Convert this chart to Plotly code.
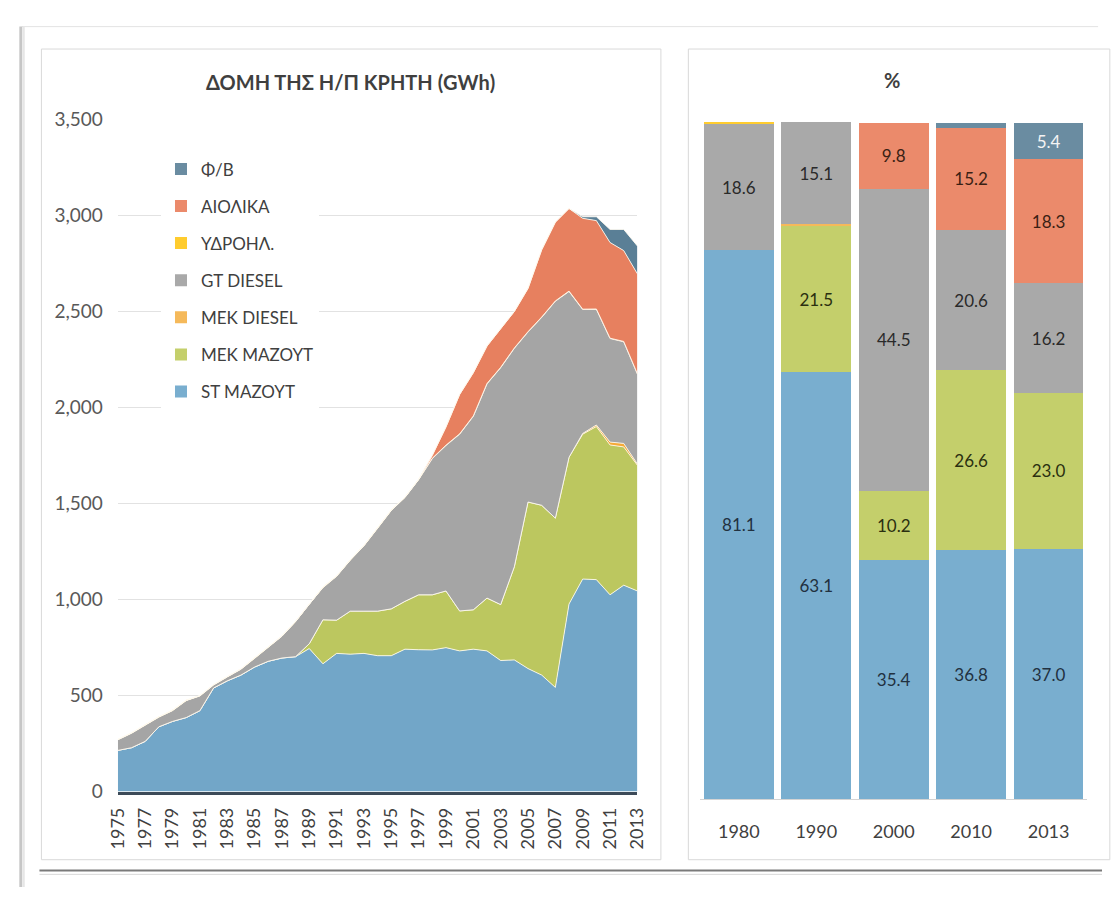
import plotly.graph_objects as go

# ---- Annual electricity generation structure, Crete (GWh) ----
years = list(range(1975, 2014))

st_mazout = [214, 228, 261, 337, 365, 385, 421, 539, 576, 606,
             648, 678, 695, 702, 744, 665, 719, 715, 719, 707,
             707, 741, 738, 737, 749, 732, 741, 732, 682, 685,
             640, 606, 542, 976, 1106, 1103, 1024, 1074, 1044]
mek_mazout = [0] * 14 + [25, 229, 173, 224, 220, 232, 244, 249, 286, 287,
                         295, 208, 205, 275, 291, 485, 867, 884, 881, 764,
                         754, 797, 780, 720, 655]
mek_diesel = [0] * 34 + [4, 8, 15, 18, 6]
gt_diesel = [55, 75, 84, 50, 56, 88, 76, 15, 20, 30,
             45, 71, 113, 182, 207, 167, 228, 265, 340, 431,
             512, 540, 599, 709, 757, 920, 1007, 1115, 1233, 1137,
             885, 978, 1129, 863, 645, 602, 539, 529, 468]
hydro = [2, 2, 2, 2, 2, 2, 2, 2, 2, 2,
         2, 2, 2, 2, 2, 3, 2, 2, 2, 2,
         2, 2, 2, 2, 2, 2, 2, 2, 2, 2,
         2, 2, 2, 2, 2, 2, 2, 2, 2]
wind = [0] * 23 + [15, 95, 205, 225, 195, 200, 190, 225, 350, 410,
                   430, 473, 460, 498, 473, 520]
pv = [0] * 34 + [8, 20, 68, 110, 145]

# ---- Percentage shares for selected years ----
share_years = ["1980", "1990", "2000", "2010", "2013"]
pct_st_mazout = [81.1, 63.1, 35.4, 36.8, 37.0]
pct_mek_mazout = [0.0, 21.5, 10.2, 26.6, 23.0]
pct_mek_diesel = [0.0, 0.3, 0.0, 0.0, 0.0]
pct_gt_diesel = [18.6, 15.1, 44.5, 20.6, 16.2]
pct_hydro = [0.3, 0.0, 0.0, 0.0, 0.0]
pct_wind = [0.0, 0.0, 9.8, 15.2, 18.3]
pct_pv = [0.0, 0.0, 0.0, 0.7, 5.4]

names = ["ST ΜΑΖΟΥΤ", "ΜΕΚ ΜΑΖΟΥΤ", "ΜΕΚ DIESEL", "GT DIESEL",
         "ΥΔΡΟΗΛ.", "ΑΙΟΛΙΚΑ", "Φ/Β"]
area_colors = ["#72a6c8", "#bcc75f", "#f5a937", "#a5a5a5",
               "#ffcc2e", "#e7805f", "#5a7f96"]
bar_colors = ["#79aecf", "#c4cf6b", "#f5b95a", "#a9a9a9",
              "#ffcc2e", "#eb8a6b", "#6a8ca1"]
label_colors = ["#22313f", "#2b2f10", "#22313f", "#2a2a2a",
                "#22313f", "#3a1f14", "#f4f4f4"]

gwh_series = [st_mazout, mek_mazout, mek_diesel, gt_diesel, hydro, wind, pv]
pct_series = [pct_st_mazout, pct_mek_mazout, pct_mek_diesel, pct_gt_diesel,
              pct_hydro, pct_wind, pct_pv]

W, H = 1112, 898
FONT = "Lato, 'Open Sans', sans-serif"


def fx(px):
    return px / W


def fy(py):
    return 1 - py / H


fig = go.Figure()

# stacked areas (left panel)
for name, vals, col in zip(names, gwh_series, area_colors):
    fig.add_trace(go.Scatter(
        x=years, y=vals, name=name, stackgroup="gwh", mode="lines",
        line=dict(width=1, color="rgba(255,250,240,0.85)"),
        fillcolor=col, showlegend=False, hoverinfo="x+y+name",
        xaxis="x", yaxis="y"))

# 100% stacked bars (right panel); these carry the legend (top item = top layer)
n = len(names)
for i, (name, vals, col, tcol) in enumerate(zip(names, pct_series, bar_colors, label_colors)):
    fig.add_trace(go.Bar(
        x=share_years, y=vals, name=name, marker=dict(color=col, line=dict(width=0)),
        text=[f"{v:.1f}" if v >= 1 else "" for v in vals],
        textposition="inside", insidetextanchor="middle", textangle=0,
        constraintext="none",
        textfont=dict(family=FONT, size=17, color=tcol),
        legendgroup=name, legendrank=n - i, showlegend=True,
        xaxis="x2", yaxis="y2"))


def pline(x0, y0, x1, y1, color, width):
    return dict(type="line", xref="paper", yref="paper",
                x0=fx(x0), x1=fx(x1), y0=fy(y0), y1=fy(y1),
                line=dict(color=color, width=width))


def prect(x0, y0, x1, y1, color):
    return dict(type="rect", xref="paper", yref="paper",
                x0=fx(x0), x1=fx(x1), y0=fy(y1), y1=fy(y0),
                line=dict(color=color, width=1))


shapes = [
    # outer page frame
    pline(10, 15, 1108, 15, "#e3e3e3", 1),
    pline(9, 15, 9, 898, "#c6c6c6", 3),
    pline(12, 15, 12, 898, "#e6e6e6", 2),
    # panel boxes
    prect(30, 38, 662, 870, "#d9d9d9"),
    prect(690, 38, 1120, 870, "#d9d9d9"),
    # rule under the panels
    pline(28, 881, 1112, 881, "#7a7a7a", 2),
    pline(28, 885, 1112, 885, "#d8d8d8", 1),
]

annotations = [
    dict(text="<b>ΔΟΜΗ ΤΗΣ Η/Π ΚΡΗΤΗ (GWh)</b>", x=fx(345), y=fy(72),
         xref="paper", yref="paper", xanchor="center", yanchor="middle",
         showarrow=False, font=dict(family=FONT, size=20, color="#3f3f3f")),
    dict(text="<b>%</b>", x=fx(898), y=fy(70),
         xref="paper", yref="paper", xanchor="center", yanchor="middle",
         showarrow=False, font=dict(family=FONT, size=20, color="#3f3f3f")),
]

fig.update_layout(
    width=W, height=H,
    margin=dict(l=0, r=0, t=0, b=0),
    paper_bgcolor="white", plot_bgcolor="white",
    font=dict(family=FONT, color="#595959"),
    barmode="stack", bargap=0.1,
    shapes=shapes, annotations=annotations,
    xaxis=dict(domain=[fx(108), fx(638)], range=[1975, 2013],
               tickvals=years[::2], tickangle=-90,
               tickfont=dict(size=18, color="#404040"),
               showgrid=False, zeroline=False,
               showline=True, linecolor="#3c4a58", linewidth=3,
               ticks="", ticklabelstandoff=6, anchor="y"),
    yaxis=dict(domain=[fy(800), fy(110)], range=[0, 3500],
               tickvals=[0, 500, 1000, 1500, 2000, 2500, 3000, 3500],
               tickformat=",d", tickfont=dict(size=19, color="#595959"),
               showgrid=True, gridcolor="#e2e2e2", gridwidth=1,
               zeroline=False, showline=False, ticks="",
               ticklabelstandoff=14, anchor="x"),
    xaxis2=dict(domain=[fx(702), fx(1097)], type="category",
                tickfont=dict(size=18, color="#404040"),
                showgrid=False, zeroline=False,
                showline=True, linecolor="#d4d4d4", linewidth=1,
                ticks="", ticklabelstandoff=16, anchor="y2"),
    yaxis2=dict(domain=[fy(808), fy(113)], range=[0, 100],
                showgrid=False, zeroline=False, showline=False,
                showticklabels=False, ticks="", anchor="x2"),
    legend=dict(x=fx(152), y=fy(143), xanchor="left", yanchor="top",
                bgcolor="white", borderwidth=0,
                traceorder="grouped", tracegroupgap=12,
                font=dict(family=FONT, size=17, color="#404040"),
                itemclick=False, itemdoubleclick=False),
)

fig.write_html("out.html")
